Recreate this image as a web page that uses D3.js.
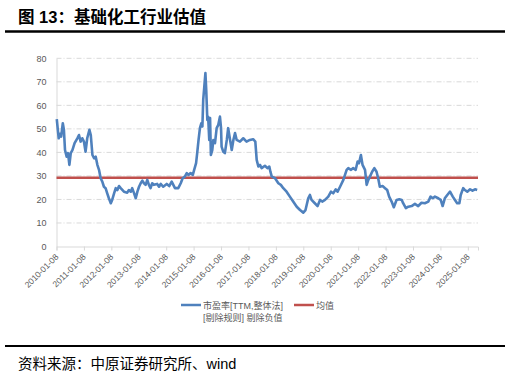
<!DOCTYPE html>
<html><head><meta charset="utf-8">
<script src="https://cdn.jsdelivr.net/npm/d3@7"></script>
<style>
body{margin:0;background:#fff;}
svg{display:block;font-family:"Liberation Sans","Noto Sans CJK SC",sans-serif;}
</style></head>
<body>
<svg id="c" width="510" height="378"></svg>
<script>
// decimal-year positions (weekly data, sampled) and PE values
const dates = [2010.03,2010.10,2010.15,2010.19,2010.25,2010.29,2010.33,2010.39,2010.44,2010.49,2010.54,2010.60,2010.68,2010.78,2010.84,2010.90,2010.96,2011.02,2011.08,2011.14,2011.22,2011.27,2011.33,2011.39,2011.45,2011.51,2011.57,2011.63,2011.69,2011.75,2011.81,2011.87,2011.93,2012.00,2012.05,2012.12,2012.18,2012.24,2012.30,2012.36,2012.48,2012.60,2012.66,2012.73,2012.78,2012.85,2012.91,2012.97,2013.03,2013.09,2013.15,2013.21,2013.27,2013.33,2013.39,2013.45,2013.51,2013.57,2013.69,2013.76,2013.82,2013.91,2014.04,2014.13,2014.22,2014.28,2014.34,2014.46,2014.55,2014.62,2014.70,2014.77,2014.83,2014.91,2014.99,2015.04,2015.11,2015.15,2015.20,2015.25,2015.30,2015.34,2015.37,2015.41,2015.45,2015.48,2015.52,2015.55,2015.59,2015.62,2015.65,2015.70,2015.74,2015.80,2015.86,2015.92,2015.98,2016.02,2016.04,2016.10,2016.16,2016.23,2016.28,2016.35,2016.41,2016.47,2016.53,2016.59,2016.71,2016.83,2016.95,2017.07,2017.19,2017.27,2017.32,2017.38,2017.44,2017.50,2017.62,2017.71,2017.78,2017.82,2017.87,2017.99,2018.11,2018.20,2018.29,2018.41,2018.53,2018.65,2018.78,2018.90,2019.02,2019.10,2019.20,2019.26,2019.32,2019.44,2019.54,2019.63,2019.71,2019.81,2019.93,2020.03,2020.11,2020.20,2020.27,2020.36,2020.48,2020.60,2020.66,2020.76,2020.84,2020.93,2021.00,2021.05,2021.12,2021.18,2021.27,2021.33,2021.39,2021.45,2021.53,2021.61,2021.69,2021.75,2021.81,2021.91,2022.00,2022.08,2022.15,2022.24,2022.32,2022.42,2022.52,2022.61,2022.66,2022.76,2022.85,2022.97,2023.09,2023.21,2023.33,2023.45,2023.58,2023.66,2023.74,2023.82,2023.94,2024.03,2024.10,2024.18,2024.27,2024.37,2024.47,2024.55,2024.63,2024.71,2024.76,2024.85,2024.91,2025.00,2025.10,2025.19,2025.28,2025.36];
const pe = [54.1,46,47.9,46.7,52.4,49.6,41,38.2,39.7,34.7,39.7,41,43.9,46,47.4,44.6,46,44.6,40.3,46,49.6,47.4,38.9,37.5,38.2,34.7,32.6,29,27.6,25.4,24.8,22.6,20.5,18.4,19.8,22.6,24.8,24,25.7,24.8,23.3,22.9,24,23.3,24.8,22.6,20.5,23.3,25.4,26.9,28,26.9,26.2,28.3,26.2,24.8,26.9,26.2,26.6,25.4,26.6,25.4,26.6,25.7,27.6,26.2,24.8,24.8,26.9,29,29.7,31.2,30.4,31.2,30.4,32.6,35.4,39.7,45.3,50.3,52.4,51,62.3,68,73.7,66.6,53.8,55.2,45.3,54.6,38.9,41,45.3,43.9,50.3,51.7,55.2,50.3,42.5,40.3,39.7,45.3,50.3,45.3,41,45.3,48.2,45.3,44.6,46,44.6,45.3,45.6,44.6,36.8,34,34.7,33.3,34.3,33.3,34,31.8,29.7,29,26.9,26.2,24.8,23.3,21.2,19.1,16.9,15.5,14.4,15.5,20.5,21.9,19.8,18.4,17.2,19.8,19.1,19.8,21.2,23.3,22.6,24.3,23.3,25.4,28.3,32.6,33.3,32.6,33.3,32.6,36.1,35.4,38.9,34.7,32.6,26.2,28.3,29.7,31.8,33.3,31.8,29,25.4,25.7,24.8,24,21.2,19.1,16.7,19.8,20.1,19.8,18.4,16.3,16.9,17.2,18.1,17.2,18.6,18.4,19.1,21.2,20.5,21.2,20.5,19.8,17.2,20.5,21.9,23.3,21.2,19.8,18.4,18.4,21.9,24.8,24,23.3,24.3,23.7,24.3,24];
const meanValue = 29.2;
const tickLabels = ["2010-01-08","2011-01-08","2012-01-08","2013-01-08","2014-01-08","2015-01-08","2016-01-08","2017-01-08","2018-01-08","2019-01-08","2020-01-08","2021-01-08","2022-01-08","2023-01-08","2024-01-08","2025-01-08"];
const yTicks = [0,10,20,30,40,50,60,70,80];
const seriesNames = ["市盈率[TTM,整体法]","均值"];
const legendNote = "[剔除规则] 剔除负值";
const titleText = "图 13：基础化工行业估值";
const sourceText = "资料来源：中原证券研究所、wind";

const svg = d3.select("#c");
const mL = 56.5, mR = 478, mT = 58.3, mB = 246.5;
const x = d3.scaleLinear().domain([2010.02, 2025.39]).range([mL, mR]);
const y = d3.scaleLinear().domain([0, 80]).range([mB, mT]);

// title
svg.append("text").attr("x", 18).attr("y", 23).attr("font-size", 16.5).attr("font-weight", "bold")
  .attr("fill", "#000").text(titleText);
svg.append("line").attr("x1", 5).attr("x2", 505).attr("y1", 31.5).attr("y2", 31.5)
  .attr("stroke", "#000").attr("stroke-width", 2.5);
svg.append("line").attr("x1", 5).attr("x2", 505).attr("y1", 346).attr("y2", 346)
  .attr("stroke", "#000").attr("stroke-width", 2.2);
svg.append("text").attr("x", 18).attr("y", 369).attr("font-size", 14.5)
  .attr("fill", "#000").text(sourceText);

// gridlines
svg.append("g").selectAll("line").data(yTicks.filter(d => d > 0)).join("line")
  .attr("x1", mL).attr("x2", mR).attr("y1", d => y(d)).attr("y2", d => y(d))
  .attr("stroke", "#D9D9D9").attr("stroke-width", 1).attr("stroke-dasharray", "5,2,1,2");

// y axis
const yAxis = svg.append("g").attr("transform", `translate(${mL},0)`)
  .call(d3.axisLeft(y).tickValues(yTicks).tickSize(0).tickPadding(10));
yAxis.select(".domain").attr("stroke", "#D9D9D9");
yAxis.selectAll("text").attr("font-size", 9).attr("fill", "#595959")
  .attr("font-family", "Liberation Sans, sans-serif");

// x axis
const tickPos = tickLabels.map((d, i) => 2010.02 + i);
const xAxis = svg.append("g").attr("transform", `translate(0,${mB})`)
  .call(d3.axisBottom(x).tickValues(tickPos).tickSize(4).tickFormat((d, i) => tickLabels[i]));
xAxis.select(".domain").attr("stroke", "#D9D9D9");
xAxis.selectAll(".tick line").attr("stroke", "#D9D9D9");
xAxis.selectAll("text").attr("font-size", 8.5).attr("fill", "#595959")
  .attr("font-family", "Liberation Sans, sans-serif")
  .attr("text-anchor", "end").attr("dy", 0).attr("y", 0)
  .attr("transform", "translate(2,11) rotate(-45)");

// mean line
svg.append("line").attr("x1", mL).attr("x2", mR).attr("y1", y(meanValue)).attr("y2", y(meanValue))
  .attr("stroke", "#C0504D").attr("stroke-width", 2.5);

// PE line
const data = dates.map((d, i) => ({t: d, v: pe[i]}));
svg.append("path").datum(data)
  .attr("d", d3.line().x(d => x(d.t)).y(d => y(d.v)))
  .attr("fill", "none").attr("stroke", "#4F81BD").attr("stroke-width", 2.6)
  .attr("stroke-linejoin", "round");

// legend
const lg = svg.append("g").attr("font-size", 9).attr("fill", "#595959");
lg.append("line").attr("x1", 181).attr("x2", 201).attr("y1", 305).attr("y2", 305)
  .attr("stroke", "#4F81BD").attr("stroke-width", 2.5);
lg.append("text").attr("x", 203).attr("y", 308.5).text(seriesNames[0]);
lg.append("line").attr("x1", 294).attr("x2", 314).attr("y1", 305).attr("y2", 305)
  .attr("stroke", "#C0504D").attr("stroke-width", 2.5);
lg.append("text").attr("x", 316).attr("y", 308.5).text(seriesNames[1]);
lg.append("text").attr("x", 203).attr("y", 320.5).text(legendNote);
</script>
</body></html>
